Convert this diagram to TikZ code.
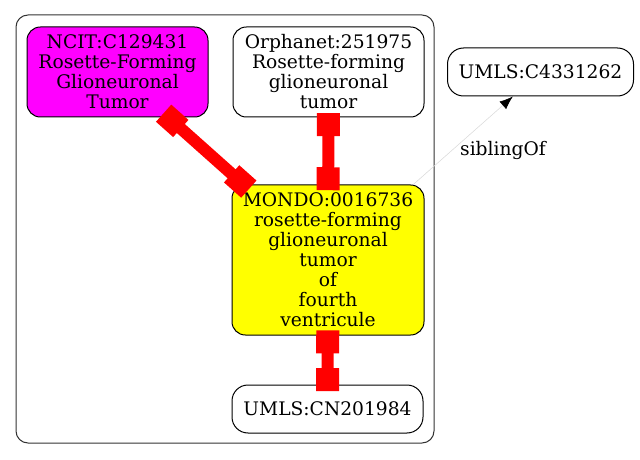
\documentclass[tikz,border=0pt]{standalone}
\usepackage{fontspec}
\setmainfont{DejaVu Serif}
\usetikzlibrary{arrows.meta}
\definecolor{gvmagenta}{RGB}{255,0,255}
\definecolor{gvyellow}{RGB}{255,255,0}
\definecolor{gvred}{RGB}{255,0,0}
\tikzset{
  box/.style={draw=black, line width=0.75pt, rounded corners=10pt, inner sep=0pt,
    align=center, font=\fontsize{14}{15}\selectfont},
  redline/.style={draw=gvred, line width=9pt},
  marker/.style={fill=gvred, minimum size=17.25pt, inner sep=0pt, sloped, draw=none},
  sib/.style={draw=black!15, line width=0.4pt, -{Latex[length=10pt,width=7.5pt,black]}},
  lbl/.style={font=\fontsize{14}{15}\selectfont}
}
\begin{document}
\begin{tikzpicture}[x=0.75pt,y=-0.75pt]
\useasboundingbox (0,0) rectangle (640,460);
\draw[black!80, line width=0.75pt, rounded corners=9pt] (16,15) rectangle (434,443);
\node[box, fill=gvmagenta, minimum width=135.75pt, minimum height=67.5pt] (ncit) at (117.5,72)
  {NCIT:C129431\\Rosette-Forming\\Glioneuronal\\Tumor};
\node[box, fill=white, minimum width=143.25pt, minimum height=67.5pt] (orph) at (328.5,72)
  {Orphanet:251975\\Rosette-forming\\glioneuronal\\tumor};
\node[box, fill=white, rounded corners=12pt, minimum width=139.5pt, minimum height=36pt] (umlsa) at (540.5,72)
  {UMLS:C4331262};
\node[box, fill=gvyellow, minimum width=144pt, minimum height=112.5pt] (mondo) at (328,260)
  {MONDO:0016736\\rosette-forming\\glioneuronal\\tumor\\of\\fourth\\ventricule};
\node[box, fill=white, rounded corners=12pt, minimum width=143.25pt, minimum height=36pt] (umlsb) at (327.5,409)
  {UMLS:CN201984};
% red edges
\draw[redline] (ncit) -- (mondo) node[marker, pos=0.05] {} node[marker, pos=0.955] {};
\draw[redline] (orph) -- (mondo) node[marker, pos=0.107] {} node[marker, pos=0.914] {};
\draw[redline] (mondo) -- (umlsb) node[marker, pos=0.13] {} node[marker, pos=0.9] {};
% sibling edge
\draw[sib] (mondo) -- (umlsa);
\node[lbl] (siblbl) at (503,150) {siblingOf};
\end{tikzpicture}
\end{document}
